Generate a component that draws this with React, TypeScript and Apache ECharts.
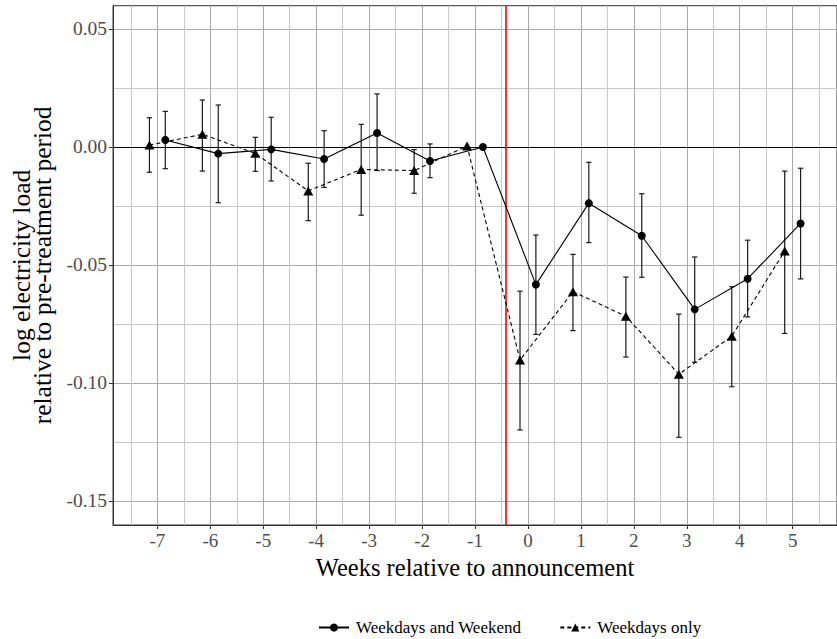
import React, { useEffect, useRef } from "react";
import * as echarts from "echarts";

// ---- data ----
const weeks = [-7, -6, -5, -4, -3, -2, -1, 0, 1, 2, 3, 4, 5];

// "Weekdays and Weekend" (circles, solid line)
const allEst = [0.003, -0.0028, -0.001, -0.0051, 0.0059, -0.0059, 0, -0.0583, -0.0238, -0.0376, -0.0688, -0.0558, -0.0324];
const allLo = [-0.0092, -0.0236, -0.0144, -0.0171, -0.01, -0.013, null, -0.0794, -0.0405, -0.0552, -0.0912, -0.072, -0.0559];
const allHi = [0.0151, 0.0178, 0.0126, 0.0069, 0.0225, 0.0013, null, -0.0373, -0.0065, -0.0198, -0.0466, -0.0395, -0.009];

// "Weekdays only" (triangles, dashed line)
const wkEst = [0.0008, 0.0054, -0.0027, -0.0186, -0.0095, -0.01, 0.0004, -0.0903, -0.0613, -0.0717, -0.0963, -0.0802, -0.0441];
const wkLo = [-0.0107, -0.0102, -0.0103, -0.0312, -0.0289, -0.0196, null, -0.1199, -0.0778, -0.089, -0.123, -0.1016, -0.079];
const wkHi = [0.0124, 0.0199, 0.0041, -0.0069, 0.0096, -0.0011, null, -0.0611, -0.0455, -0.0551, -0.0708, -0.0592, -0.0102];

const xTicks = [-7, -6, -5, -4, -3, -2, -1, 0, 1, 2, 3, 4, 5];
const xMinorTicks = [-7.5, -6.5, -5.5, -4.5, -3.5, -2.5, -1.5, -0.5, 0.5, 1.5, 2.5, 3.5, 4.5, 5.5];
const yTicks = [-0.15, -0.1, -0.05, 0, 0.05];
const yMinorTicks = [-0.125, -0.075, -0.025, 0.025];

const announcementX = -0.405;
const dodge = 0.15;
const capHalf = 0.05;

const seriesNames = ["Weekdays and Weekend", "Weekdays only"];

const FONT = "'Liberation Serif', 'DejaVu Serif', serif";

function pts(est: number[], off: number) {
  return weeks.map((w, i) => [w + off, est[i]]);
}
function bars(lo: (number | null)[], hi: (number | null)[], off: number) {
  const out: number[][] = [];
  weeks.forEach((w, i) => {
    if (lo[i] !== null && hi[i] !== null) out.push([w + off, lo[i] as number, hi[i] as number]);
  });
  return out;
}

const errRender = (params: any, api: any) => {
  const x = api.value(0);
  const lo = api.value(1);
  const hi = api.value(2);
  const pLo = api.coord([x, lo]);
  const pHi = api.coord([x, hi]);
  const pl = api.coord([x - capHalf, lo]);
  const pr = api.coord([x + capHalf, lo]);
  const hw = (pr[0] - pl[0]) / 2;
  const style = { stroke: "#1a1a1a", lineWidth: 1.2 };
  return {
    type: "group",
    children: [
      { type: "line", shape: { x1: pLo[0], y1: pLo[1], x2: pHi[0], y2: pHi[1] }, style },
      { type: "line", shape: { x1: pLo[0] - hw, y1: pLo[1], x2: pLo[0] + hw, y2: pLo[1] }, style },
      { type: "line", shape: { x1: pHi[0] - hw, y1: pHi[1], x2: pHi[0] + hw, y2: pHi[1] }, style },
    ],
  };
};

export default function App() {
  const ref = useRef<HTMLDivElement>(null);
  useEffect(() => {
    if (!ref.current) return;
    const chart = echarts.init(ref.current, undefined, { renderer: "svg" });
    const xMin = -7.838;
    const xMax = 5.838;
    const yMin = -0.16017;
    const yMax = 0.05987;
    chart.setOption({
      animation: false,
      backgroundColor: "#ffffff",
      textStyle: { fontFamily: FONT },
      grid: {
        left: 112,
        top: 5.7,
        width: 729.4,
        height: 519.3,
        show: true,
        borderColor: "#333333",
        borderWidth: 1,
        backgroundColor: "transparent",
      },
      legend: {
        data: seriesNames,
        left: 313,
        top: 614,
        itemWidth: 30,
        itemHeight: 10,
        itemGap: 38,
        textStyle: { fontFamily: FONT, fontSize: 17, color: "#000", padding: [0, 0, 0, 2] },
      },
      xAxis: [
        {
          type: "value",
          min: xMin,
          max: xMax,
          position: "bottom",
          name: "Weeks relative to announcement",
          nameLocation: "middle",
          nameGap: 29,
          nameTextStyle: { fontFamily: FONT, fontSize: 24.5, color: "#000" },
          axisLine: { show: true, onZero: false, lineStyle: { color: "#333333", width: 1 } },
          axisTick: { show: true, length: 4, customValues: xTicks, lineStyle: { color: "#333333" } },
          axisLabel: {
            customValues: xTicks,
            margin: 6,
            fontFamily: FONT,
            fontSize: 19,
            color: "#4d4d4d",
            formatter: (v: number) => String(v),
          },
          splitLine: { show: true, lineStyle: { color: "#a9a9a9", width: 1 } },
        },
        {
          type: "value",
          min: xMin,
          max: xMax,
          position: "top",
          axisLine: { show: false },
          axisTick: { show: false, customValues: xMinorTicks },
          axisLabel: { show: false, customValues: xMinorTicks },
          splitLine: { show: true, lineStyle: { color: "#c9c9c9", width: 1 } },
        },
      ],
      yAxis: [
        {
          type: "value",
          min: yMin,
          max: yMax,
          position: "left",
          name: "log electricity load\nrelative to pre-treatment period",
          nameLocation: "middle",
          nameGap: 59,
          nameRotate: 90,
          nameTextStyle: { fontFamily: FONT, fontSize: 25.5, color: "#000", lineHeight: 21.5 },
          axisLine: { show: true, onZero: false, lineStyle: { color: "#333333", width: 1 } },
          axisTick: { show: true, length: 4, customValues: yTicks, lineStyle: { color: "#333333" } },
          axisLabel: {
            customValues: yTicks,
            margin: 6,
            fontFamily: FONT,
            fontSize: 19.5,
            color: "#4d4d4d",
            formatter: (v: number) => v.toFixed(2),
          },
          splitLine: { show: true, lineStyle: { color: "#a9a9a9", width: 1 } },
        },
        {
          type: "value",
          min: yMin,
          max: yMax,
          position: "right",
          axisLine: { show: false },
          axisTick: { show: false, customValues: yMinorTicks },
          axisLabel: { show: false, customValues: yMinorTicks },
          splitLine: { show: true, lineStyle: { color: "#c9c9c9", width: 1 } },
        },
      ],
      series: [
        {
          type: "custom",
          name: "err-all",
          renderItem: errRender,
          data: bars(allLo, allHi, dodge),
          encode: { x: 0, y: [1, 2] },
          z: 3,
          silent: true,
        },
        {
          type: "custom",
          name: "err-wk",
          renderItem: errRender,
          data: bars(wkLo, wkHi, -dodge),
          encode: { x: 0, y: [1, 2] },
          z: 3,
          silent: true,
        },
        {
          type: "line",
          name: seriesNames[0],
          data: pts(allEst, dodge),
          symbol: "circle",
          symbolSize: 8,
          itemStyle: { color: "#000" },
          lineStyle: { color: "#000", width: 1.1, type: "solid" },
          z: 4,
          silent: true,
          markLine: {
            silent: true,
            symbol: "none",
            label: { show: false },
            z: 2,
            data: [
              { yAxis: 0, lineStyle: { color: "#000", width: 1.1, type: "solid" } },
              { xAxis: announcementX, lineStyle: { color: "#ff0000", width: 1.6, type: "solid" } },
            ],
          },
        },
        {
          type: "line",
          name: seriesNames[1],
          data: pts(wkEst, -dodge),
          symbol: "triangle",
          symbolSize: [10, 9],
          itemStyle: { color: "#000" },
          lineStyle: { color: "#000", width: 1.1, type: [4, 3] },
          z: 4,
          silent: true,
        },
      ],
    });
    return () => chart.dispose();
  }, []);
  return (
    <div
      ref={ref}
      style={{ position: "fixed", left: 0, top: 0, width: 837, height: 639 }}
    />
  );
}
